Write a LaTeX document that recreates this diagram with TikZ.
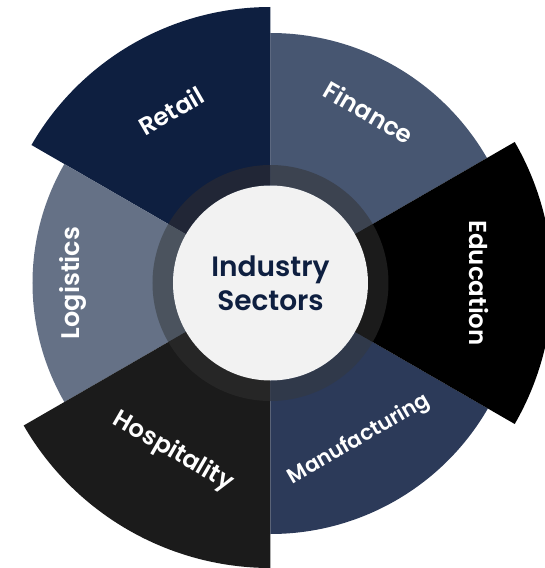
\documentclass[tikz,border=0pt]{standalone}
\usepackage{fontspec}
\setmainfont{Poppins}[BoldFont={Poppins SemiBold}]
\definecolor{cRetail}{HTML}{0E1F40}
\definecolor{cFinance}{HTML}{475671}
\definecolor{cEducation}{HTML}{000000}
\definecolor{cManuf}{HTML}{2C3A59}
\definecolor{cHosp}{HTML}{1B1B1B}
\definecolor{cLog}{HTML}{657186}
\definecolor{rRetail}{HTML}{212636}
\definecolor{rFinance}{HTML}{3C4350}
\definecolor{rEducation}{HTML}{1B1B1B}
\definecolor{rManuf}{HTML}{30394A}
\definecolor{rHosp}{HTML}{262626}
\definecolor{rLog}{HTML}{4B535E}
\definecolor{cCenter}{HTML}{F2F2F2}
\definecolor{cTitle}{HTML}{0E1F40}
\begin{document}
\begin{tikzpicture}[
  seclabel/.style={text=white, font=\bfseries\fontsize{24.5}{28}\selectfont, inner sep=0pt},
]
\useasboundingbox (-270.5pt,-285pt) rectangle (274.5pt,283pt);
\clip (-270.5pt,-285pt) rectangle (274.5pt,283pt);
% sectors
\newcommand{\sect}[4]{%
  \fill[#4] (0,0) -- (#1:#3) arc[start angle=#1, end angle=#2, radius=#3] -- cycle;}
\sect{30}{90}{250pt}{cFinance}
\sect{90}{150}{276pt}{cRetail}
\sect{150}{210}{238pt}{cLog}
\sect{210}{270}{285pt}{cHosp}
\sect{270}{330}{251pt}{cManuf}
\sect{-30}{30}{282pt}{cEducation}
% inner ring
\newcommand{\ringseg}[3]{%
  \fill[#3] (#1:97.5pt) arc[start angle=#1, end angle=#2, radius=97.5pt] -- (#2:118pt) arc[start angle=#2, end angle=#1, radius=118pt] -- cycle;}
\ringseg{30}{90}{rFinance}
\ringseg{90}{150}{rRetail}
\ringseg{150}{210}{rLog}
\ringseg{210}{270}{rHosp}
\ringseg{270}{330}{rManuf}
\ringseg{-30}{30}{rEducation}
% center
\node (center) [circle, fill=cCenter, minimum size=195pt, inner sep=0pt, align=center,
  text=cTitle, font=\bfseries\fontsize{28}{34}\selectfont] at (0,0) {Industry\\Sectors};
% labels
\node (retail) [seclabel, rotate=30] at (120:199pt) {Retail};
\node (finance) [seclabel, rotate=-30] at (60:197pt) {Finance};
\node (education) [seclabel, rotate=-90] at (0:208pt) {Education};
\node (manuf) [seclabel, rotate=30, font=\bfseries\fontsize{21}{24}\selectfont] at (-60.5:180pt) {Manufacturing};
\node (hosp) [seclabel, rotate=-30] at (240:195pt) {Hospitality};
\node (logistics) [seclabel, rotate=90, font=\bfseries\fontsize{25.5}{28}\selectfont] at (180:198pt) {Logistics};
\end{tikzpicture}
\end{document}
